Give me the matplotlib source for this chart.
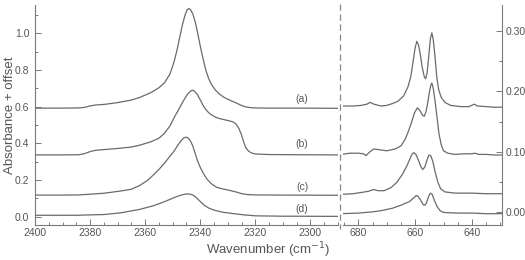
import matplotlib
matplotlib.use("Agg")
import matplotlib.pyplot as plt
from matplotlib.lines import Line2D
from matplotlib.ticker import MultipleLocator

plt.rcParams['font.family'] = ['Liberation Sans', 'DejaVu Sans']

# ---------------- Left panel (CO2 stretch region) ----------------
wn_a = [2400, 2390, 2384, 2382, 2380, 2378, 2375, 2370, 2365, 2362, 2358, 2355, 2353, 2351,
        2349.5, 2348.5, 2347.5, 2346.5, 2345.5, 2344.8, 2344.2, 2343.5, 2342.7, 2341.8, 2341,
        2340, 2339, 2338, 2337, 2336, 2334.5, 2333, 2331.5, 2330, 2328, 2326.5, 2325, 2323.5,
        2322, 2320, 2315, 2305, 2290]
ab_a = [0.592, 0.592, 0.593, 0.596, 0.604, 0.609, 0.612, 0.622, 0.636, 0.650, 0.676, 0.703,
        0.730, 0.778, 0.845, 0.905, 0.975, 1.045, 1.100, 1.127, 1.135, 1.128, 1.105, 1.060,
        1.005, 0.930, 0.862, 0.800, 0.755, 0.722, 0.690, 0.668, 0.652, 0.640, 0.627, 0.617,
        0.606, 0.599, 0.595, 0.593, 0.592, 0.592, 0.591]

wn_b = [2400, 2390, 2384, 2382, 2380, 2378, 2375, 2370, 2365, 2362, 2358, 2355, 2353, 2351,
        2349.5, 2348, 2346.7, 2345.5, 2344.5, 2343.5, 2342.8, 2342, 2341, 2340, 2339, 2338,
        2337, 2336, 2334.5, 2333, 2331, 2329.5, 2328, 2327, 2326, 2325, 2324.2, 2323.5, 2322.5,
        2321.5, 2320, 2315, 2305, 2290]
ab_b = [0.337, 0.337, 0.338, 0.344, 0.355, 0.362, 0.366, 0.372, 0.380, 0.390, 0.408, 0.428,
        0.455, 0.495, 0.540, 0.580, 0.616, 0.648, 0.670, 0.685, 0.690, 0.683, 0.665, 0.637,
        0.607, 0.585, 0.568, 0.556, 0.543, 0.535, 0.528, 0.523, 0.516, 0.505, 0.482, 0.445,
        0.405, 0.378, 0.358, 0.348, 0.342, 0.339, 0.338, 0.337]

wn_c = [2400, 2390, 2384, 2375, 2369, 2365, 2362, 2359, 2357, 2355, 2353, 2351, 2349.5, 2348,
        2347, 2346, 2345.2, 2344.5, 2343.6, 2342.7, 2341.8, 2341, 2340, 2339, 2337.6, 2336,
        2334, 2332, 2329.7, 2327, 2325, 2323, 2320, 2310, 2290]
ab_c = [0.118, 0.118, 0.119, 0.128, 0.140, 0.150, 0.170, 0.200, 0.228, 0.258, 0.292, 0.330,
        0.358, 0.393, 0.414, 0.429, 0.434, 0.430, 0.414, 0.385, 0.343, 0.305, 0.269, 0.240,
        0.206, 0.180, 0.160, 0.152, 0.145, 0.135, 0.126, 0.121, 0.119, 0.118, 0.117]

wn_d = [2400, 2385, 2375, 2369, 2362, 2357, 2353, 2350, 2348, 2346.5, 2345, 2344, 2343, 2342,
        2341, 2340, 2338.5, 2337, 2335, 2332, 2328, 2324, 2320, 2310, 2290]
ab_d = [0.008, 0.008, 0.012, 0.021, 0.040, 0.060, 0.082, 0.101, 0.113, 0.120, 0.124, 0.124,
        0.120, 0.112, 0.098, 0.083, 0.062, 0.048, 0.036, 0.025, 0.017, 0.010, 0.005, 0.003,
        0.002]

# ---------------- Right panel (bending region) ----------------
wr_a = [686, 682, 679, 677, 675.8, 674.5, 672, 670, 668, 666, 664, 662.5, 661.5, 660.7, 660,
        659.4, 658.8, 658.2, 657.5, 656.8, 656.3, 655.8, 655.2, 654.6, 654.1, 653.6, 653,
        652.4, 651.7, 650.8, 649.5, 647.5, 644, 641, 639.2, 638, 635, 632, 629]
ar_a = [0.176, 0.176, 0.177, 0.179, 0.182, 0.179, 0.176, 0.177, 0.180, 0.184, 0.193, 0.208,
        0.225, 0.250, 0.272, 0.283, 0.277, 0.262, 0.240, 0.225, 0.221, 0.230, 0.258, 0.288,
        0.297, 0.285, 0.258, 0.225, 0.203, 0.190, 0.182, 0.177, 0.175, 0.175, 0.179, 0.176,
        0.175, 0.174, 0.174]

wr_b = [686, 683, 680, 678.2, 677.3, 676, 674.6, 673, 670, 667, 665, 663.5, 662.3, 661.2,
        660.2, 659.2, 658.4, 657.4, 656.8, 656.2, 655.6, 655, 654.5, 654.1, 653.6, 653, 652.3,
        651.6, 650.8, 650, 648.5, 646, 643, 640, 639, 637.5, 635, 632, 629]
ar_b = [0.096, 0.098, 0.098, 0.097, 0.094, 0.100, 0.105, 0.104, 0.102, 0.105, 0.110, 0.121,
        0.135, 0.150, 0.165, 0.173, 0.169, 0.161, 0.159, 0.166, 0.180, 0.198, 0.210, 0.214,
        0.205, 0.185, 0.158, 0.130, 0.112, 0.102, 0.098, 0.096, 0.097, 0.097, 0.098, 0.096,
        0.096, 0.095, 0.095]

wr_c = [686, 682, 679, 676.5, 674.6, 673, 671, 668.5, 666.4, 664.5, 662.9, 661.8, 661, 660.4,
        659.6, 658.8, 658, 657.3, 656.6, 655.8, 655.1, 654.5, 653.8, 653, 652, 651, 649.5, 646,
        640, 635, 629]
ar_c = [0.030, 0.031, 0.033, 0.035, 0.038, 0.036, 0.036, 0.041, 0.050, 0.063, 0.077, 0.089,
        0.097, 0.099, 0.095, 0.086, 0.076, 0.071, 0.075, 0.087, 0.095, 0.094, 0.085, 0.068,
        0.050, 0.039, 0.034, 0.032, 0.032, 0.031, 0.031]

wr_d = [686, 680, 675, 672, 668, 665, 662, 660.5, 659.6, 659, 658, 657.2, 656.6, 656, 655.2,
        654.6, 654, 653.2, 652.3, 651.2, 650, 645, 640, 635, 629]
ar_d = [-0.002, -0.001, 0.001, 0.003, 0.007, 0.012, 0.018, 0.024, 0.028, 0.027, 0.020, 0.013,
        0.012, 0.016, 0.027, 0.032, 0.030, 0.020, 0.010, 0.003, 0.000, -0.001, -0.001, -0.002,
        -0.002]

labels = ['(a)', '(b)', '(c)', '(d)']
label_wn = 2303
label_y = [0.643, 0.397, 0.164, 0.042]

left_yticks = [0.0, 0.2, 0.4, 0.6, 0.8, 1.0]
right_yticks = [0.00, 0.10, 0.20, 0.30]
left_xticks = [2400, 2380, 2360, 2340, 2320, 2300]
right_xticks = [680, 660, 640]

line_c = '#6a6a6a'
text_c = '#555555'
spine_c = '#7a7a7a'

W, H = 525, 260
fig = plt.figure(figsize=(W / 100, H / 100), dpi=100)
axL = fig.add_axes([35 / W, 1 - 225 / H, (338 - 35) / W, 220 / H])
axR = fig.add_axes([343 / W, 1 - 225 / H, (502 - 343) / W, 220 / H])

for wn, ab in [(wn_a, ab_a), (wn_b, ab_b), (wn_c, ab_c), (wn_d, ab_d)]:
    axL.plot(wn, ab, color=line_c, lw=0.9)
for wn, ab in [(wr_a, ar_a), (wr_b, ar_b), (wr_c, ar_c), (wr_d, ar_d)]:
    axR.plot(wn, ab, color=line_c, lw=0.9)

for lab, y in zip(labels, label_y):
    axL.text(label_wn, y, lab, ha='center', va='center', fontsize=7.5, color=text_c)

axL.set_xlim(2400, 2290)
axL.set_ylim(-0.045, 1.154)
axR.set_xlim(685.4, 629.4)
axR.set_ylim(-0.0207, 0.343)

axL.set_xticks(left_xticks)
axL.xaxis.set_minor_locator(MultipleLocator(5))
axL.set_yticks(left_yticks)
axL.set_yticklabels([f'{v:.1f}' for v in left_yticks])
axL.yaxis.set_minor_locator(MultipleLocator(0.1))

axR.set_xticks(right_xticks)
axR.xaxis.set_minor_locator(MultipleLocator(5))
axR.set_yticks(right_yticks)
axR.set_yticklabels([f'{v:.2f}' for v in right_yticks])
axR.yaxis.set_minor_locator(MultipleLocator(0.05))

for ax in (axL, axR):
    ax.spines['top'].set_visible(False)
    for s in ax.spines.values():
        s.set_color(spine_c)
        s.set_linewidth(0.8)
    ax.tick_params(which='both', direction='in', colors=spine_c, labelcolor=text_c,
                   labelsize=7.5, width=0.7)
    ax.tick_params(which='major', length=4)
    ax.tick_params(which='minor', length=2)
    ax.tick_params(axis='x', pad=2)

axL.spines['right'].set_visible(False)
axR.spines['left'].set_visible(False)
axL.tick_params(axis='y', which='both', left=True, right=False, pad=4)
axR.yaxis.tick_right()
axR.tick_params(axis='y', which='both', left=False, right=True, pad=2.5)

# broken-axis dashed separator
fig.add_artist(Line2D([340 / W, 340 / W], [1 - 4 / H, 1 - 229 / H], transform=fig.transFigure,
                      color='#888888', lw=0.9, dashes=(5, 3)))

fig.text(10 / W, 1 - 115 / H, 'Absorbance + offset', rotation=90, ha='center', va='center',
         fontsize=9.5, color=text_c)
fig.text(268.5 / W, 1 - 250 / H, 'Wavenumber (cm$^{-1}$)', ha='center', va='center',
         fontsize=9.5, color=text_c)

fig.savefig('out.png', dpi=100)
